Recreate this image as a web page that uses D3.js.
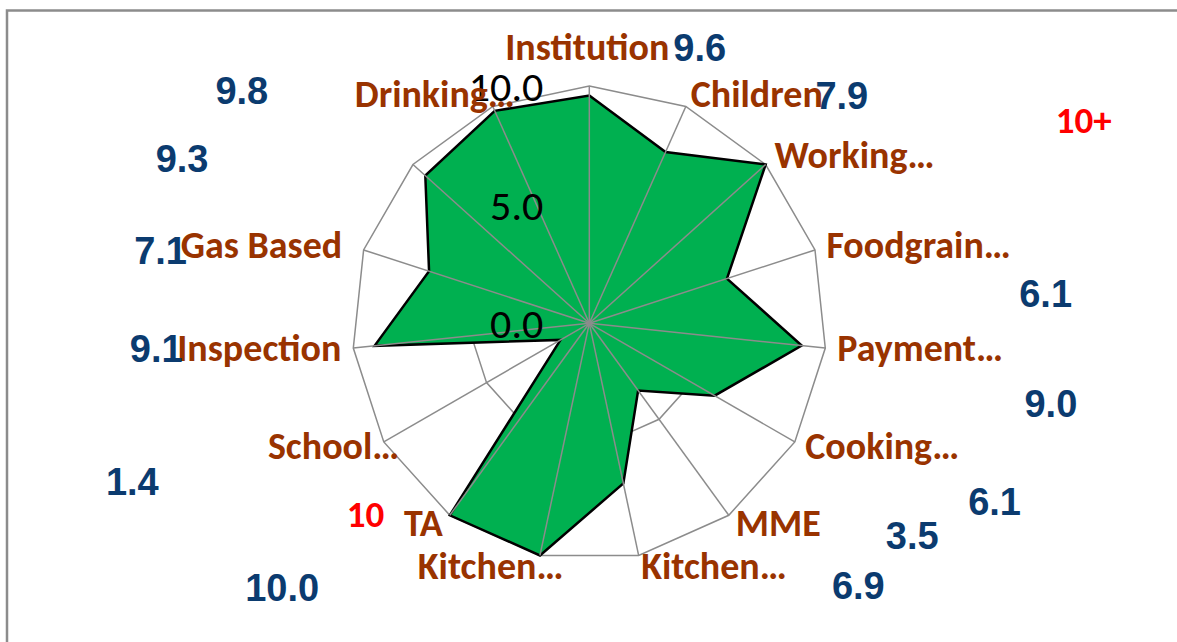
<!DOCTYPE html>
<html>
    <head>
        <title>Radar</title>
        <script src="https://d3js.org/d3.v7.min.js"></script>
        <meta charset="UTF-8">
        <style>
            body { margin: 0; background: #fff; }
        </style>
    </head>
    <body>
        <script>
            // data
            var categories = ["Institution", "Children", "Working\u2026", "Foodgrain\u2026", "Payment\u2026",
                "Cooking\u2026", "MME", "Kitchen\u2026", "Kitchen\u2026", "TA", "School\u2026",
                "Inspection", "Gas Based", "", "Drinking\u2026"];
            var values = [9.6, 7.9, 10, 6.1, 9.0, 6.1, 3.5, 6.9, 10.0, 10, 1.4, 9.1, 7.1, 9.3, 9.8];
            var valueLabels = ["9.6", "7.9", "10+", "6.1", "9.0", "6.1", "3.5", "6.9", "10.0", "10",
                "1.4", "9.1", "7.1", "9.3", "9.8"];
            var overMax = [false, false, true, false, false, false, false, false, false, true,
                false, false, false, false, false];
            var ticks = [0, 5, 10];
            var tickLabels = ["0.0", "5.0", "10.0"];

            // where the value labels sit (angle in degrees, distance in axis units)
            var labelAngle = [21.8, 48.0, 67.7, 86.3, 99.8, 113.7, 123.3, 134.3, 229.3, 229.5,
                250.9, 266.7, 279.7, 292.0, 303.8];
            var labelDist = [12.53, 14.32, 22.52, 19.27, 19.74, 18.65, 16.28, 15.84, 17.07, 12.40,
                20.38, 18.28, 18.33, 18.51, 17.62];
            // small sideways shifts of the category labels
            var catShift = [-2, 0, 0, 0, 0, 0, 0, 0, 26, 0, 26, 0, -10, 0, 27];

            var w = 1177;
            var h = 642;
            var cx = 589.3;
            var cy = 323.3;
            var R = 237.3;
            var n = categories.length;
            var calibri = "Carlito, Calibri, Lato, sans-serif";

            var r = d3.scaleLinear().domain([0, 10]).range([0, R]);
            var angle = d3.scaleLinear().domain([0, n]).range([0, 2 * Math.PI]);

            function px(a, d) { return cx + Math.sin(a) * d; }
            function py(a, d) { return cy - Math.cos(a) * d; }

            var svg = d3.select("body")
                    .append("svg")
                    .attr("width", w)
                    .attr("height", h);

            // frame
            svg.append("path")
                    .attr("d", "M7,642 L7,10.5 L1177,10.5")
                    .attr("fill", "none")
                    .attr("stroke", "#8c8c8c")
                    .attr("stroke-width", 2.5);

            var g = svg.append("g");

            // rings
            g.selectAll("polygon.ring")
                    .data(ticks.filter(function (t) { return t > 0; }))
                    .enter()
                    .append("polygon")
                    .attr("class", "ring")
                    .attr("points", function (t) {
                        return d3.range(n).map(function (i) {
                            return px(angle(i), r(t)) + "," + py(angle(i), r(t));
                        }).join(" ");
                    })
                    .attr("fill", "none")
                    .attr("stroke", "#8c8c8c")
                    .attr("stroke-width", 1.5);

            // series
            var line = d3.lineRadial()
                    .angle(function (d, i) { return angle(i); })
                    .radius(function (d) { return r(d); })
                    .curve(d3.curveLinearClosed);

            g.append("path")
                    .datum(values)
                    .attr("transform", "translate(" + cx + "," + cy + ")")
                    .attr("d", line)
                    .attr("fill", "#00b050")
                    .attr("stroke", "#000")
                    .attr("stroke-width", 2.5)
                    .attr("stroke-linejoin", "miter");

            // spokes
            g.selectAll("line.spoke")
                    .data(d3.range(n))
                    .enter()
                    .append("line")
                    .attr("class", "spoke")
                    .attr("x1", cx)
                    .attr("y1", cy)
                    .attr("x2", function (i) { return px(angle(i), R); })
                    .attr("y2", function (i) { return py(angle(i), R); })
                    .attr("stroke", "#8c8c8c")
                    .attr("stroke-width", 1.5);

            // axis tick labels
            g.selectAll("text.tick")
                    .data(ticks)
                    .enter()
                    .append("text")
                    .attr("class", "tick")
                    .attr("x", cx - 46)
                    .attr("y", function (t) { return cy - r(t) + 15; })
                    .attr("text-anchor", "end")
                    .style("font-family", calibri)
                    .style("font-size", "42px")
                    .attr("fill", "#000")
                    .text(function (t, i) { return tickLabels[i]; });

            // category labels
            var L = R + 12;
            g.selectAll("text.cat")
                    .data(categories)
                    .enter()
                    .append("text")
                    .attr("class", "cat")
                    .attr("x", function (d, i) { return px(angle(i), L) + catShift[i]; })
                    .attr("y", function (d, i) {
                        var a = angle(i);
                        return py(a, L) + (Math.cos(a) > 0.99 ? -13.6 : 11.5);
                    })
                    .attr("text-anchor", function (d, i) {
                        var s = Math.sin(angle(i));
                        return s > 0.05 ? "start" : (s < -0.05 ? "end" : "middle");
                    })
                    .style("font-family", calibri)
                    .style("font-weight", "bold")
                    .style("font-size", "38px")
                    .attr("fill", "#993300")
                    .text(function (d) { return d; });

            // value labels
            g.selectAll("text.val")
                    .data(valueLabels)
                    .enter()
                    .append("text")
                    .attr("class", "val")
                    .attr("x", function (d, i) { return px(labelAngle[i] * Math.PI / 180, r(labelDist[i])); })
                    .attr("y", function (d, i) {
                        return py(labelAngle[i] * Math.PI / 180, r(labelDist[i])) + (overMax[i] ? 12.5 : 13.5);
                    })
                    .attr("text-anchor", "middle")
                    .style("font-family", function (d, i) {
                        return overMax[i] ? calibri : "'Liberation Sans', Arial, sans-serif";
                    })
                    .style("font-weight", "bold")
                    .style("font-size", function (d, i) { return overMax[i] ? "37px" : "38px"; })
                    .attr("fill", function (d, i) { return overMax[i] ? "#ff0000" : "#0b3b6f"; })
                    .text(function (d) { return d; });
        </script>
    </body>
</html>
